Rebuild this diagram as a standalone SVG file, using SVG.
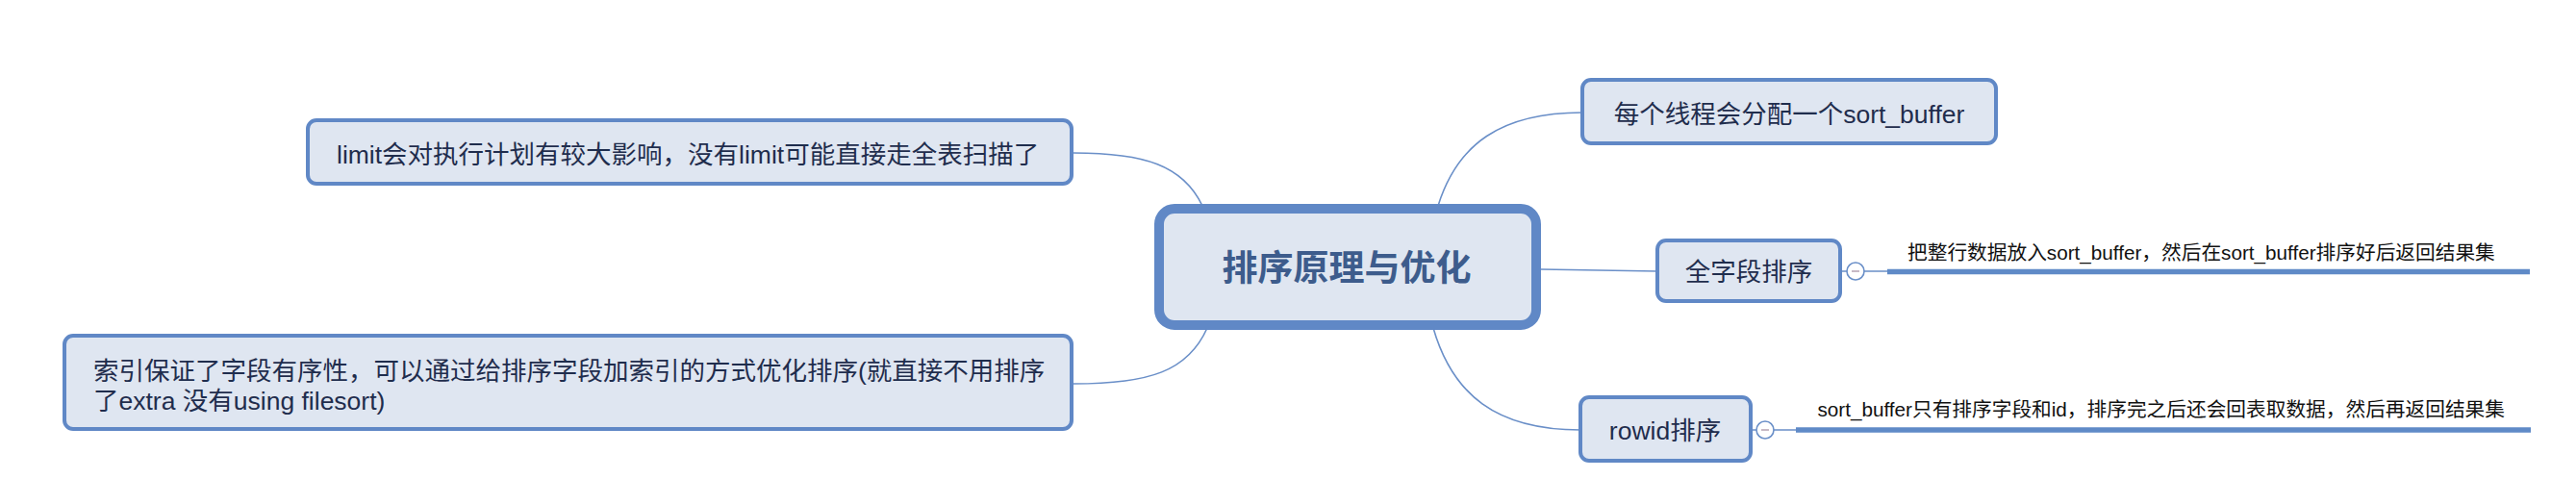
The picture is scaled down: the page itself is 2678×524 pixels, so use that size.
<svg xmlns="http://www.w3.org/2000/svg" width="2678" height="524" viewBox="0 0 2678 524">
<style>
.conn{fill:none;stroke:#6a8fc8;stroke-width:1.6}
.thick{fill:none;stroke:#5f8ac7;stroke-width:5.5}
.box{fill:#dfe6f1;stroke:#6088c6;stroke-width:4}
.root{fill:#dfe6f1;stroke:#6088c6;stroke-width:10}
.t{font-family:"Liberation Sans","Noto Sans CJK SC",sans-serif;font-size:26.5px;fill:#1f2d4d}
.rt{font-family:"Noto Sans CJK SC","Liberation Sans",sans-serif;font-size:37px;font-weight:bold;fill:#3d5c8c}
.lb{font-family:"Liberation Sans","Noto Sans CJK SC",sans-serif;font-size:20.7px;fill:#111111}
.tog{fill:#ffffff;stroke:#6a8fc8;stroke-width:1.6}
.minus{stroke:#b5a2b2;stroke-width:1.5}
</style>
<rect width="2678" height="524" fill="#ffffff"/>
<g id="connectors">
<path class="conn" d="M1495 214 C1515 150 1560 117 1645 117"/>
<path class="conn" d="M1602 280 Q1660 281 1723 282"/>
<path class="conn" d="M1490 341 C1510 410 1555 447 1643 447"/>
<path class="conn" d="M1250 214 C1230 172 1190 159 1116 159"/>
<path class="conn" d="M1255 341 C1235 386 1195 399 1116 399"/>
<path class="conn" d="M1915 282 L1920 282 M1938 282 L1962 282"/>
<path class="conn" d="M1822 447 L1826 447 M1844 447 L1867 447"/>
<path class="thick" d="M1962 282.5 L2630 282.5"/>
<path class="thick" d="M1867 447 L2631 447"/>
</g>
<g id="root">
<rect class="root" x="1205" y="217" width="392" height="121" rx="16"/>
<text class="rt" x="1400" y="292" text-anchor="middle">排序原理与优化</text>
</g>
<g id="node-sortbuffer">
<rect class="box" x="1645" y="83" width="430" height="66" rx="9"/>
<text class="t" x="1860" y="128" text-anchor="middle">每个线程会分配一个sort_buffer</text>
</g>
<g id="node-full">
<rect class="box" x="1723" y="250" width="190" height="63" rx="9"/>
<text class="t" x="1818" y="292" text-anchor="middle">全字段排序</text>
<circle class="tog" cx="1929" cy="282" r="9"/>
<line class="minus" x1="1925" y1="282" x2="1933" y2="282"/>
<text class="lb" x="1983" y="270">把整行数据放入sort_buffer，然后在sort_buffer排序好后返回结果集</text>
</g>
<g id="node-rowid">
<rect class="box" x="1643" y="413" width="177" height="66" rx="9"/>
<text class="t" x="1731" y="457" text-anchor="middle">rowid排序</text>
<circle class="tog" cx="1835" cy="447" r="9"/>
<line class="minus" x1="1831" y1="447" x2="1839" y2="447"/>
<text class="lb" x="2604" y="433" text-anchor="end">sort_buffer只有排序字段和id，排序完之后还会回表取数据，然后再返回结果集</text>
</g>
<g id="node-limit">
<rect class="box" x="320" y="125" width="794" height="66" rx="9"/>
<text class="t" x="350" y="170">limit会对执行计划有较大影响，没有limit可能直接走全表扫描了</text>
</g>
<g id="node-index">
<rect class="box" x="67" y="349" width="1047" height="97" rx="9"/>
<text class="t" x="97" y="395">索引保证了字段有序性，可以通过给排序字段加索引的方式优化排序(就直接不用排序</text>
<text class="t" x="97" y="426">了extra 没有using filesort)</text>
</g>
</svg>
